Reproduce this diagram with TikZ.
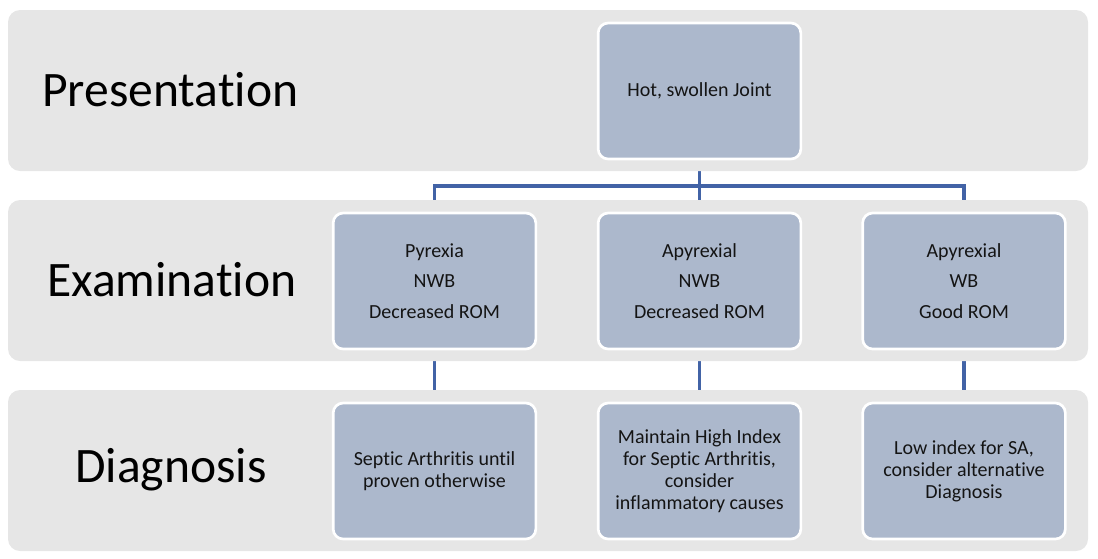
\documentclass[tikz,border=0pt]{standalone}
\usepackage{fontspec}
\setmainfont{Carlito}[Ligatures=NoCommon]
\usetikzlibrary{backgrounds}
\definecolor{bandgray}{RGB}{230,230,230}
\definecolor{boxfill}{RGB}{172,184,204}
\definecolor{linkblue}{RGB}{66,99,166}
\definecolor{txt}{RGB}{20,20,20}
\tikzset{
  band/.style={fill=bandgray, draw=none, rounded corners=9pt},
  bandlabel/.style={anchor=west, inner sep=0pt, font=\fontsize{37.2}{41}\selectfont, text=black},
  card/.style={draw=white, line width=2pt, fill=boxfill, rounded corners=7.5pt,
    minimum width=152pt, minimum height=102pt, inner sep=2pt, align=center, text=txt,
    font=\fontsize{15}{16.5}\selectfont},
  exam/.style={card, font=\fontsize{15}{23}\selectfont},
  link/.style={draw=linkblue, line width=2.3pt}
}
\begin{document}
\begin{tikzpicture}[x=0.75pt, y=-0.75pt]
\useasboundingbox (0,0) rectangle (1098,558);
% bands
\path[band] (8,10) rectangle (1088,171);
\path[band] (8,200) rectangle (1088,361);
\path[band] (8,390) rectangle (1088,551);
% band labels
\node[bandlabel] (lp) at (42,90) {Presentation};
\node[bandlabel] (le) at (47,280) {Examination};
\node[bandlabel] (ld) at (75,470) {Diagnosis};
% boxes
\node[card] (hot) at (699.5,91) {Hot, swollen Joint};
\node[exam] (e1) at (434.5,281) {Pyrexia\\NWB\\Decreased ROM};
\node[exam] (e2) at (699.5,281) {Apyrexial\\NWB\\Decreased ROM};
\node[exam] (e3) at (964,281) {Apyrexial\\WB\\Good ROM};
\node[card] (d1) at (434.5,471) {Septic Arthritis until\\proven otherwise};
\node[card] (d2) at (699.5,471) {Maintain High Index\\for Septic Arthritis,\\consider\\inflammatory causes};
\node[card] (d3) at (964,471) {Low index for SA,\\consider alternative\\Diagnosis};
\coordinate (split) at (699.5,186);
% connectors
\begin{scope}[on background layer]
\draw[link] (hot.south) -- (split);
\draw[link] (split) -| (e1.north);
\draw[link] (split) -- (e2.north);
\draw[link] (split) -| (e3.north);
\draw[link] (e1.south) -- (d1.north);
\draw[link] (e2.south) -- (d2.north);
\draw[link] (e3.south) -- (d3.north);
\end{scope}
\end{tikzpicture}
\end{document}
